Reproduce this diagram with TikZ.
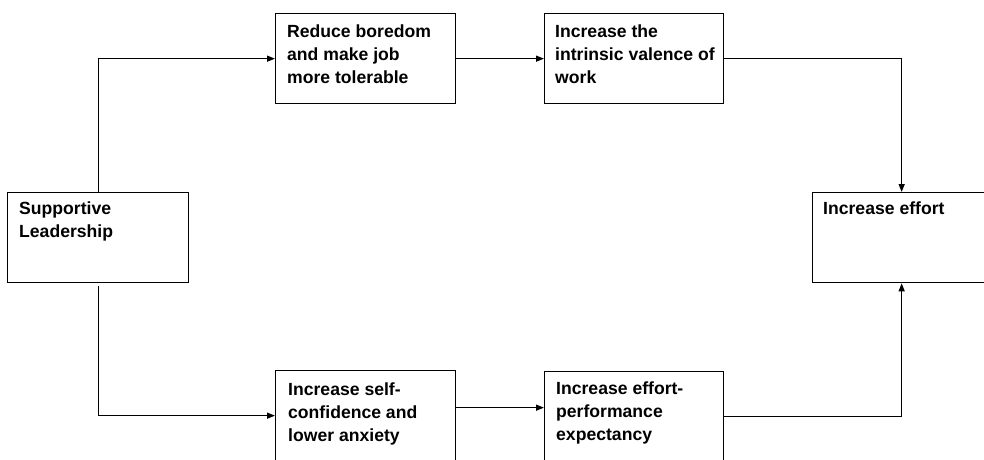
\documentclass[tikz,border=0pt]{standalone}
\usepackage{fontspec}
\setmainfont{Liberation Sans}
\usetikzlibrary{arrows.meta,calc}

\tikzset{
  box/.style={draw=black, line width=1.3pt, fill=white, anchor=north west,
    inner sep=0pt, minimum height=90pt},
  boxtext/.style={anchor=north west, inner sep=0pt, align=left,
    font=\bfseries\fontsize{17.6}{23}\selectfont},
  link/.style={draw=black, line width=1.3pt,
    -{Triangle[length=8pt,width=6pt]}},
  plain/.style={draw=black, line width=1.3pt}
}

\begin{document}
\begin{tikzpicture}[x=1pt,y=-1pt]
  \useasboundingbox (0,0) rectangle (984,459);
  \clip (0,0) rectangle (984,459);
  \fill[white] (0,0) rectangle (984,459);

  % boxes
  \node[box, minimum width=181pt] (sup)  at (7,192)   {};
  \node[box, minimum width=180pt] (red)  at (275,13)  {};
  \node[box, minimum width=179pt] (intr) at (544,13)  {};
  \node[box, minimum width=178pt] (eff)  at (812,192) {};
  \node[box, minimum width=180pt] (conf) at (275,370) {};
  \node[box, minimum width=179pt] (perf) at (544,371) {};

  % box texts
  \node[boxtext] (tsup)  at ($(sup.north west)+(12,10)$)  {Supportive\\Leadership};
  \node[boxtext] (tred)  at ($(red.north west)+(12,12)$)  {Reduce boredom\\and make job\\more tolerable};
  \node[boxtext] (tintr) at ($(intr.north west)+(11,12)$) {Increase the\\intrinsic valence of\\work};
  \node[boxtext] (teff)  at ($(eff.north west)+(11,10)$)  {Increase effort};
  \node[boxtext] (tconf) at ($(conf.north west)+(13,13)$) {Increase self-\\confidence and\\lower anxiety};
  \node[boxtext] (tperf) at ($(perf.north west)+(12,11)$) {Increase effort-\\performance\\expectancy};

  % upper path
  \draw[link] (sup.north) |- (red.west);
  \draw[link] (red.east) -- (intr.west);
  \draw[link] (intr.east) -| (eff.north);

  % lower path
  \coordinate (supout) at ($(sup.south)+(0,3)$);
  \draw[link] (supout) |- (conf.west);
  \coordinate (confout) at ($(conf.east)+(0,-8)$);
  \draw[link] (confout) -- (confout -| perf.west);
  \draw[link] (perf.east) -| (eff.south);
\end{tikzpicture}
\end{document}
